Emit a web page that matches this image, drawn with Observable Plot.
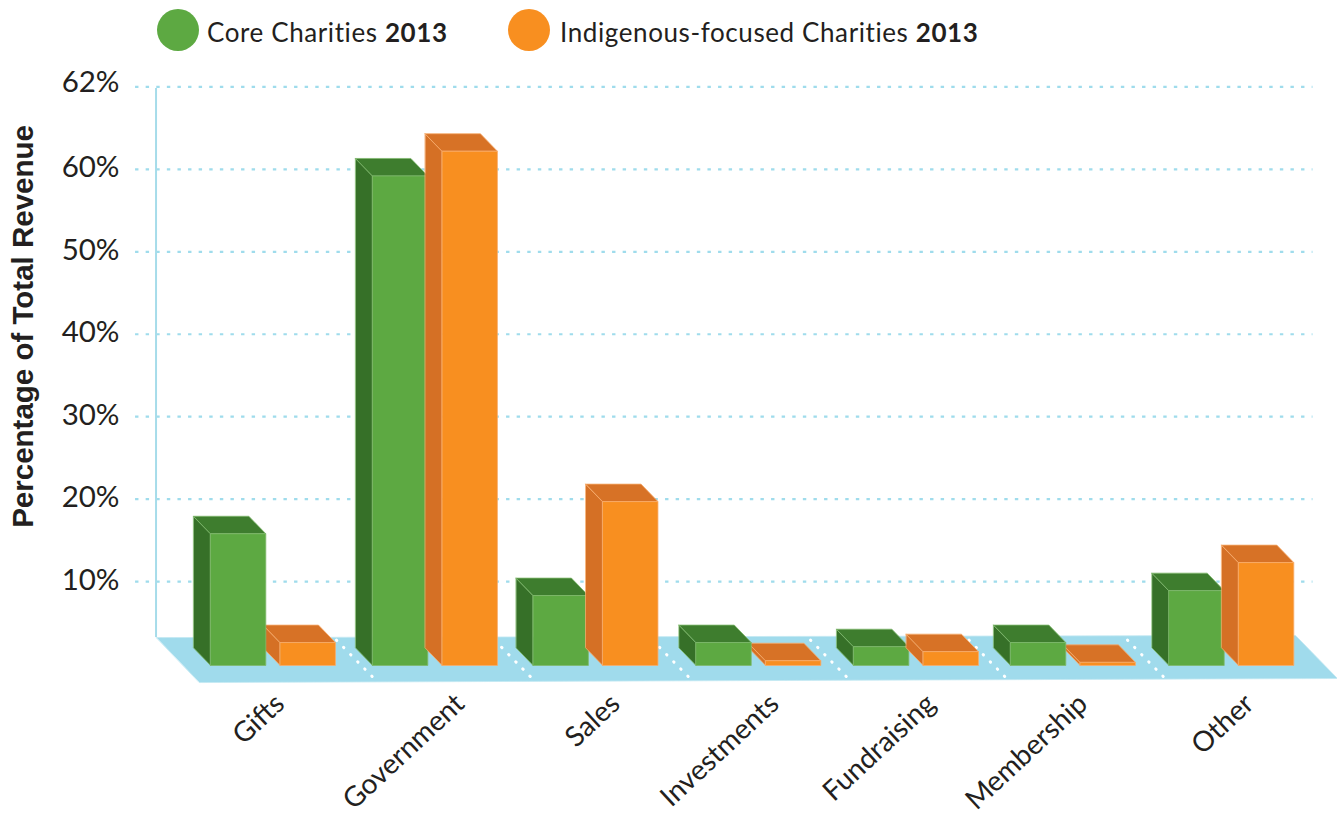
<!DOCTYPE html>
<html>
<head>
<meta charset="utf-8">
<script src="https://cdn.jsdelivr.net/npm/d3@7"></script>
<script src="https://cdn.jsdelivr.net/npm/@observablehq/plot@0.6"></script>
<style>
  html, body { margin: 0; padding: 0; background: #fff; }
  #legend { position: relative; height: 64px; font-family: Lato, sans-serif; font-size: 26px; color: #231f20; }
  #legend .dot { position: absolute; top: 9px; width: 42px; height: 42px; border-radius: 50%; }
  #legend .lab { position: absolute; top: 16px; white-space: nowrap; letter-spacing: 0.6px; }
  #legend b { font-weight: 700; }
  svg { display: block; }
</style>
</head>
<body>
<div id="legend"></div>
<div id="chart"></div>
<script>
const categories = ["Gifts", "Government", "Sales", "Investments", "Fundraising", "Membership", "Other"];
const coreValues = [15.8, 59.2, 8.3, 2.6, 2.1, 2.6, 8.9];
const indigenousValues = [2.6, 62.2, 19.7, 0.4, 1.5, 0.2, 12.3];
const tickValues = [10, 20, 30, 40, 50, 60, 70];
const tickLabels = ["10%", "20%", "30%", "40%", "50%", "60%", "62%"];
const seriesNames = ["Core Charities", "Indigenous-focused Charities"];
const legendYear = "2013";

const palette = {
  core: {front: "#5da942", top: "#3e7d2e", side: "#367028", edge: "#7fb96c"},
  indigenous: {front: "#f88f20", top: "#d77226", side: "#d57025", edge: "#f7ac6c"}
};

// Layout in scale units
const groupAt = [0, 1.0125, 2.016, 3.034, 4.019, 5, 5.99];
const labelAt = [-0.094, 1.0315, 2.0035, 2.9965, 3.975, 4.925, 5.965];
const barW = 0.345, barGap = 0.045, depthX = 0.106, depthY = 2.12, base = -0.18;

function box(x0, value, colors, id) {
  const l = x0, r = l + barW, t = value;
  const poly = (name, fill, pts) => pts.map(([x, y]) => ({x, y, id: id + name, fill, edge: colors.edge}));
  return [
    ...poly("side", colors.side, [[l - depthX, t + depthY], [l, t], [l, base], [l - depthX, base + depthY]]),
    ...poly("top", colors.top, [[l - depthX, t + depthY], [r - depthX, t + depthY], [r, t], [l, t]]),
    ...poly("front", colors.front, [[l, t], [r, t], [r, base], [l, base]])
  ];
}

const faces = categories.flatMap((c, i) => {
  const green = box(groupAt[i] - barGap - barW, coreValues[i], palette.core, c + "core");
  const orange = box(groupAt[i] + barGap, indigenousValues[i], palette.indigenous, c + "ind");
  return indigenousValues[i] < 3 && i !== 4 ? [...orange, ...green] : [...green, ...orange];
});

const floor = [
  {x: -0.728, y: 3.2}, {x: 6.391, y: 3.46}, {x: 6.653, y: -1.76}, {x: -0.459, y: -2.25}
];
const separators = [0.509, 1.497, 2.484, 3.472, 4.4625, 5.453].flatMap((s, k) => [
  {x: s - 0.1125, y: 2.9, k}, {x: s + 0.1125, y: -1.55, k}
]);

const textFont = "Lato, sans-serif";
const tickLabel = (d) => tickLabels[tickValues.indexOf(d)];
const tickStyle = {tickSize: 0, tickPadding: 3, label: null, tickFormat: tickLabel, fontSize: 29.5, fontWeight: 400, fill: "#231f20"};

const plot = Plot.plot({
  width: 1337,
  height: 755,
  marginTop: 22.4,
  marginBottom: 155.5,
  marginLeft: 122,
  marginRight: 0,
  x: {domain: [0, 6], range: [272.5, 1232.5], axis: null},
  y: {domain: [0, 70], axis: null},
  color: {type: "identity"},
  style: {fontFamily: textFont, background: "#fff"},
  marks: [
    Plot.ruleY(tickValues, {
      x1: -0.859, x2: 6.5, stroke: "#9fdcec", strokeWidth: 2.2,
      strokeDasharray: "3.4 7.2"
    }),
    Plot.ruleX([-0.731], {y1: 3.2, y2: 69.8, stroke: "#a6dcea", strokeWidth: 2}),
    Plot.line(floor, {x: "x", y: "y", fill: "#a0dbec", stroke: "#c3e9f3", strokeWidth: 0.8, curve: "linear-closed"}),
    Plot.line(separators, {
      x: "x", y: "y", z: "k", stroke: "#fff", strokeWidth: 3, strokeLinecap: "round",
      strokeDasharray: "0.5 9.6"
    }),
    Plot.line(faces, {
      x: "x", y: "y", z: "id", fill: "fill", stroke: "edge", strokeWidth: 0.8,
      curve: "linear-closed"
    }),
    Plot.axisY({...tickStyle, ticks: tickValues.slice(0, 6), dy: -1.5}),
    Plot.axisY({...tickStyle, ticks: tickValues.slice(6), dy: -4}),
    Plot.text(categories, {
      x: (d, i) => labelAt[i], y: () => -4.3, text: (d) => d, textAnchor: "end", rotate: -43,
      dx: 22, fontSize: 28, fontWeight: 400, fill: "#231f20", lineAnchor: "middle"
    }),
    Plot.text(["Percentage of Total Revenue"], {
      frameAnchor: "left", rotate: -90, dx: -99, dy: -49,
      fontSize: 29.5, fontWeight: 700, fill: "#231f20", fontFamily: "Liberation Sans, sans-serif", textAnchor: "middle"
    })
  ]
});
document.getElementById("chart").appendChild(plot);

const legend = document.getElementById("legend");
const legendPlaces = [{dot: 157, lab: 207, color: palette.core.front}, {dot: 508, lab: 560, color: palette.indigenous.front}];
seriesNames.forEach((name, i) => {
  const p = legendPlaces[i];
  const d = document.createElement("div"); d.className = "dot"; d.style.left = p.dot + "px"; d.style.background = p.color;
  const t = document.createElement("div"); t.className = "lab"; t.style.left = p.lab + "px";
  t.append(name + " ");
  const b = document.createElement("b"); b.textContent = legendYear; t.append(b);
  legend.append(d, t);
});
</script>
</body>
</html>
